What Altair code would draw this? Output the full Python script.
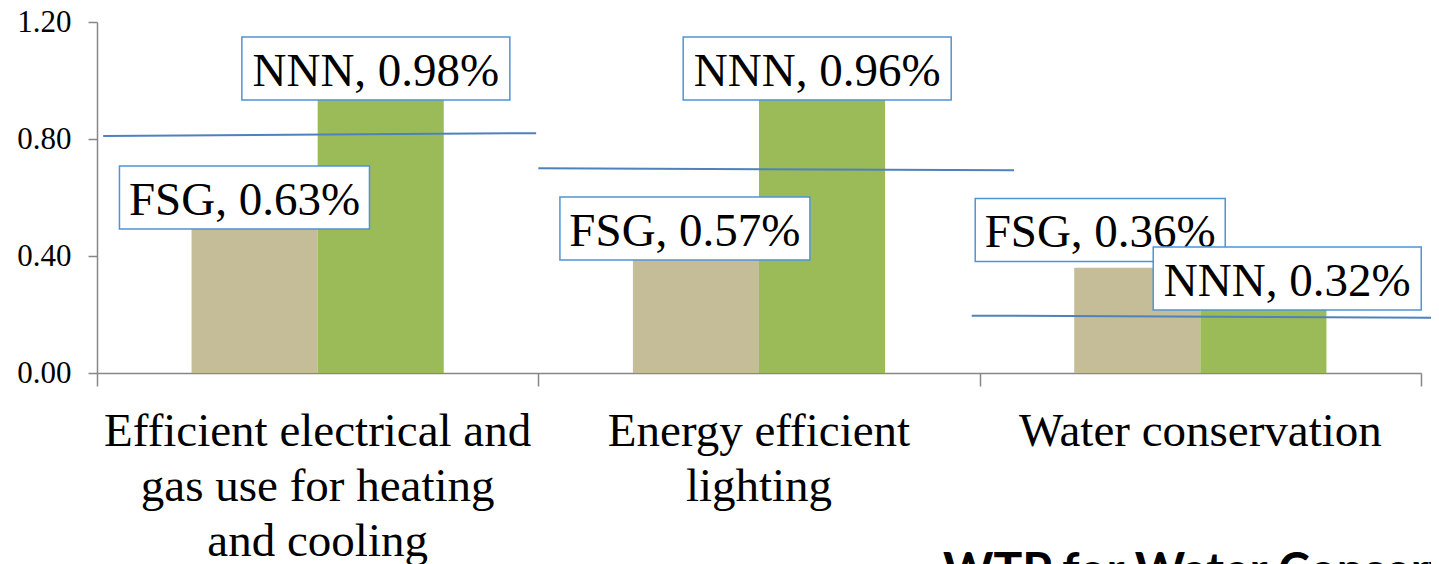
import altair as alt
import pandas as pd

# ---- data ----
categories = [
    "Efficient electrical and gas use for heating and cooling",
    "Energy efficient lighting",
    "Water conservation",
]
category_lines = [
    ["Efficient electrical and", "gas use for heating", "and cooling"],
    ["Energy efficient", "lighting"],
    ["Water conservation"],
]
series = ["FSG", "NNN"]
fsg_values = [0.63, 0.57, 0.36]
nnn_values = [0.98, 0.96, 0.32]
series_colors = ["#c4bd97", "#9bbb59"]

# hand-placed data-label anchors (label centre height in data units,
# horizontal shift from the bar centre in category-band units)
label_y_fsg = [0.600, 0.494, 0.489]
label_y_nnn = [1.041, 1.041, 0.323]
label_shift_fsg = [-0.023, -0.025, -0.084]
label_shift_nnn = [-0.011, -0.011, 0.054]

# overlaid blue line segments (start/end in category-band units and data units)
seg_x1 = [0.014, 1.000, 1.982]
seg_x2 = [0.995, 2.078, 3.041]
seg_y1 = [0.810, 0.700, 0.196]
seg_y2 = [0.820, 0.693, 0.189]

y_ticks = [0.0, 0.4, 0.8, 1.2]
footer_text = "WTP for Water Conservation"

# ---- tables ----
bars = pd.DataFrame(
    [{"category": c, "series": "FSG", "value": v} for c, v in zip(categories, fsg_values)]
    + [{"category": c, "series": "NNN", "value": v} for c, v in zip(categories, nnn_values)]
)

bar_half = 0.5 / 3.5  # bar width / 2 in band units (2 bars, outer padding 0.75 step)
lab_rows = []
for i, c in enumerate(categories):
    lab_rows.append({"series": "FSG", "x": i + 0.5 - bar_half + label_shift_fsg[i],
                     "y": label_y_fsg[i], "text": f"FSG, {fsg_values[i]:.2f}%"})
    lab_rows.append({"series": "NNN", "x": i + 0.5 + bar_half + label_shift_nnn[i],
                     "y": label_y_nnn[i], "text": f"NNN, {nnn_values[i]:.2f}%"})
labels = pd.DataFrame(lab_rows)

segs = pd.DataFrame({"x1": seg_x1, "x2": seg_x2, "y1": seg_y1, "y2": seg_y2})
footer = pd.DataFrame({"text": [footer_text]})

# ---- shared encodings ----
AX = "#878787"
SERIF = "Liberation Serif"
yscale = alt.Scale(domain=[0, 1.2], nice=False, zero=True)
yaxis = alt.Axis(values=y_ticks, format=".2f", title=None, grid=False,
                 labelFont=SERIF, labelFontSize=31, labelColor="black",
                 labelPadding=17, tickSize=9, tickColor=AX, tickWidth=1.5,
                 domainColor=AX, domainWidth=1.5)


def Y(field):
    return alt.Y(field, type="quantitative", scale=yscale, axis=yaxis)


qscale = alt.Scale(domain=[0, 3], nice=False, zero=False)

label_expr = " : ".join(
    f"datum.value == '{c}' ? [" + ", ".join(f"'{l}'" for l in lines) + "]"
    for c, lines in zip(categories, category_lines)
) + " : datum.value"

bar_layer = alt.Chart(bars).mark_bar().encode(
    x=alt.X("category:N", sort=categories, title=None,
            scale=alt.Scale(paddingInner=0, paddingOuter=0),
            axis=alt.Axis(labelExpr=label_expr, labelAngle=0, ticks=False, domain=False,
                          labelFont=SERIF, labelFontSize=47, labelColor="black",
                          labelLineHeight=55, labelBaseline="top", labelPadding=35,
                          labelLimit=2000, labelAlign="center")),
    xOffset=alt.XOffset("series:N", sort=series,
                        scale=alt.Scale(paddingInner=0, paddingOuter=0.75)),
    y=Y("value"),
    color=alt.Color("series:N", sort=series,
                    scale=alt.Scale(domain=series, range=series_colors), legend=None),
)

seg_layer = alt.Chart(segs).mark_rule(color="#4f81bd", strokeWidth=2).encode(
    x=alt.X("x1:Q", scale=qscale, title=None,
            axis=alt.Axis(values=[0, 1, 2, 3], labels=False, grid=False, orient="bottom",
                          tickSize=13, tickColor=AX, tickWidth=1.5,
                          domainColor=AX, domainWidth=1.5)),
    x2="x2:Q",
    y=Y("y1"),
    y2="y2:Q",
)


def box_layer(s, halfw):
    path = f"M{-halfw},-0.252L{halfw},-0.252L{halfw},0.252L{-halfw},0.252Z"
    return alt.Chart(labels).transform_filter(alt.datum.series == s).mark_point(
        shape=path, size=62500, fill="white", stroke="#4f94d6", strokeWidth=1.5,
        opacity=1, fillOpacity=1, strokeOpacity=1,
    ).encode(x=alt.X("x:Q", scale=qscale, axis=None), y=Y("y"))


def text_layer(s):
    return alt.Chart(labels).transform_filter(alt.datum.series == s).mark_text(
        font=SERIF, fontSize=47, color="black", align="center", baseline="middle", dy=3,
    ).encode(x=alt.X("x:Q", scale=qscale, axis=None), y=Y("y"), text="text:N")


footer_layer = alt.Chart(footer).mark_text(
    font="Lato", fontWeight="bold", fontSize=48, color="black", align="left", baseline="top",
).encode(x=alt.value(846), y=alt.value(527), text="text:N")

chart = alt.layer(
    bar_layer, seg_layer,
    box_layer("FSG", 1.0), text_layer("FSG"),
    box_layer("NNN", 1.072), text_layer("NNN"),
    footer_layer,
).resolve_scale(x="independent").properties(
    width=1324, height=351,
    autosize=alt.AutoSizeParams(type="none"),
    padding={"left": 89, "top": 14, "right": 10, "bottom": 191},
).configure_view(stroke=None)

chart.save("out.html", embed_options={"renderer": "svg", "actions": False})
